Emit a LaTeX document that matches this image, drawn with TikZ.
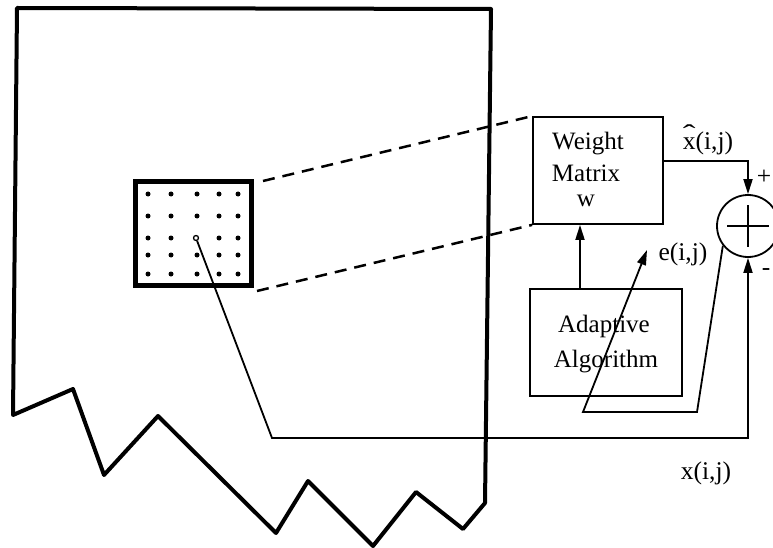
\documentclass[tikz,border=0pt]{standalone}
\usepackage{fontspec}
\usepackage{graphicx}
\setmainfont{Liberation Serif}
\usetikzlibrary{arrows.meta}
\newcommand{\myhatx}{\makebox[0pt][l]{\hspace{0.0em}\raisebox{0.3em}{\scalebox{1.5}[1]{\char"02C6}}}x}
\begin{document}
\begin{tikzpicture}[x=1pt,y=-1pt,
  thinline/.style={line width=1.8pt},
  boxnode/.style={draw,line width=1.8pt,inner sep=0pt},
  btext/.style={font=\fontsize{25}{30}\selectfont,inner sep=0pt,anchor=base},
  lbl/.style={font=\fontsize{25.5}{30}\selectfont,inner sep=0pt},
  arr/.style={-{Triangle[length=15pt,width=9pt]}},
  dot/.style={circle,fill,inner sep=0pt,minimum size=5pt}]
\useasboundingbox (0,0) rectangle (773,548);
% image outline
\draw[line width=4pt,line join=round] (17,8) -- (491,9) -- (485,503) -- (463,529) -- (416,492) -- (373,546) -- (308,481) -- (276,533) -- (158,416) -- (104,475) -- (73,389) -- (13,415) -- cycle;
% patch
\node[draw,line width=5pt,minimum width=116pt,minimum height=103pt,inner sep=0pt] (patch) at (193,233.5) {};
\foreach \xx in {148,171,197,219,238}{
  \foreach \yy in {194,216,238,255,274}{
    \ifnum\xx=197 \ifnum\yy=238 \else \node[dot] at (\xx,\yy) {};\fi
    \else \node[dot] at (\xx,\yy) {};\fi
  }}
\node[circle,draw,line width=1.3pt,inner sep=0pt,minimum size=5pt] (c) at (196,238) {};
% boxes
\node[boxnode,minimum width=130pt,minimum height=107pt] (wm) at (598,170.5) {};
\node[btext] (wmt1) at (588,150) {Weight};
\node[btext] (wmt2) at (586,182) {Matrix};
\node[btext] (wmt3) at (586,206) {w};
\node[boxnode,minimum width=152pt,minimum height=107pt] (aa) at (606,342.5) {};
\node[btext] (aat1) at (604,332) {Adaptive};
\node[btext] (aat2) at (606,367) {Algorithm};
\node[circle,draw,line width=1.8pt,minimum size=62pt,inner sep=0pt] (sum) at (748,226) {};
\draw[thinline] ([xshift=-21pt]sum.center) -- ([xshift=21pt]sum.center);
\draw[thinline] ([yshift=21pt]sum.center) -- ([yshift=-21pt]sum.center);
% dashed
\coordinate (d1) at (263,181);
\coordinate (d2) at (257,291);
\draw[line width=2.5pt,dash pattern=on 12pt off 8pt] (d1) -- (wm.north west);
\draw[line width=2.5pt,dash pattern=on 12pt off 8pt] (d2) -- (wm.south west);
% connectors
\draw[thinline,arr] (aa.north -| 580,0) -- (wm.south -| 580,0);
\draw[thinline,arr] ([yshift=9.5pt]wm.east) -| (sum.north);
\coordinate (xc) at (272,438);
\draw[thinline,arr] (c) -- (xc) -| (sum.south);
\coordinate (e1) at (697,412);
\coordinate (e2) at (583,412);
\coordinate (e3) at (647,250);
\draw[thinline,arr] (sum.218) -- (e1) -- (e2) -- (e3);
% labels
\node[lbl,anchor=base] (xh) at (708,150) {\myhatx(i,j)};
\node[lbl] (el) at (683,254) {e(i,j)};
\node[lbl] (xl) at (706,473) {x(i,j)};
\node[lbl] (plus) at (764,177) {+};
\node[lbl] (minus) at (766,272) {-};
\end{tikzpicture}
\end{document}
